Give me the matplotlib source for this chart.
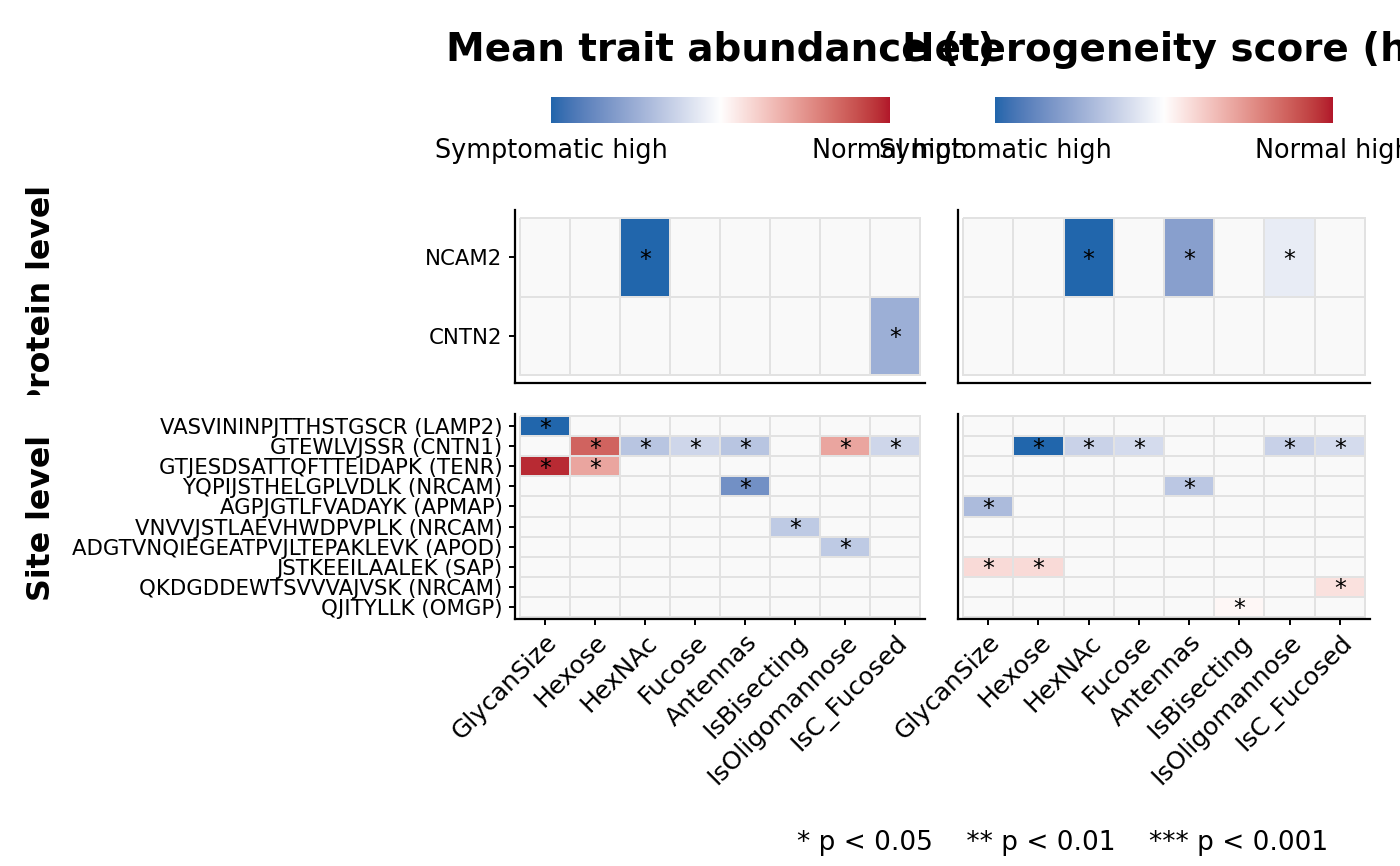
import numpy as np
import matplotlib
matplotlib.use("Agg")
import matplotlib.pyplot as plt
from matplotlib.colors import ListedColormap, Normalize
from matplotlib.transforms import Bbox, TransformedBbox

nan = np.nan

traits = ["GlycanSize", "Hexose", "HexNAc", "Fucose", "Antennas",
          "IsBisecting", "IsOligomannose", "IsC_Fucosed"]
proteins = ["NCAM2", "CNTN2"]
sites = ["VASVININPJTTHSTGSCR (LAMP2)", "GTEWLVJSSR (CNTN1)",
         "GTJESDSATTQFTTEIDAPK (TENR)", "YQPIJSTHELGPLVDLK (NRCAM)",
         "AGPJGTLFVADAYK (APMAP)", "VNVVJSTLAEVHWDPVPLK (NRCAM)",
         "ADGTVNQIEGEATPVJLTEPAKLEVK (APOD)", "JSTKEEILAALEK (SAP)",
         "QKDGDDEWTSVVVAJVSK (NRCAM)", "QJITYLLK (OMGP)"]

# scaled effect (negative = symptomatic high, positive = normal high), nan = not significant
mean_protein = [
    [nan, nan, -1.0, nan, nan, nan, nan, nan],
    [nan, nan, nan, nan, nan, nan, nan, -0.5],
]
het_protein = [
    [nan, nan, -1.0, nan, -0.6, nan, -0.12, nan],
    [nan, nan, nan, nan, nan, nan, nan, nan],
]
mean_site = [
    [-1.0, nan, nan, nan, nan, nan, nan, nan],
    [nan, 0.72, -0.36, -0.25, -0.36, nan, 0.42, -0.25],
    [0.95, 0.42, nan, nan, nan, nan, nan, nan],
    [nan, nan, nan, nan, -0.7, nan, nan, nan],
    [nan, nan, nan, nan, nan, nan, nan, nan],
    [nan, nan, nan, nan, nan, -0.33, nan, nan],
    [nan, nan, nan, nan, nan, nan, -0.33, nan],
    [nan, nan, nan, nan, nan, nan, nan, nan],
    [nan, nan, nan, nan, nan, nan, nan, nan],
    [nan, nan, nan, nan, nan, nan, nan, nan],
]
het_site = [
    [nan, nan, nan, nan, nan, nan, nan, nan],
    [nan, -1.0, -0.27, -0.22, nan, nan, -0.28, -0.22],
    [nan, nan, nan, nan, nan, nan, nan, nan],
    [nan, nan, nan, nan, -0.34, nan, nan, nan],
    [-0.42, nan, nan, nan, nan, nan, nan, nan],
    [nan, nan, nan, nan, nan, nan, nan, nan],
    [nan, nan, nan, nan, nan, nan, nan, nan],
    [0.17, 0.17, nan, nan, nan, nan, nan, nan],
    [nan, nan, nan, nan, nan, nan, nan, 0.14],
    [nan, nan, nan, nan, nan, 0.04, nan, nan],
]


# diverging gradient interpolated in Lab space (like ggplot's gradient2)
M = np.array([[0.4124, 0.3576, 0.1805], [0.2126, 0.7152, 0.0722], [0.0193, 0.1192, 0.9505]])
WHITE = np.array([0.95047, 1.0, 1.08883])

def to_lab(hexcol):
    rgb = np.array([int(hexcol[i:i + 2], 16) / 255 for i in (1, 3, 5)])
    lin = np.where(rgb <= 0.04045, rgb / 12.92, ((rgb + 0.055) / 1.055) ** 2.4)
    t = M @ lin / WHITE
    f = np.where(t > 0.008856, np.cbrt(t), 7.787 * t + 16 / 116)
    return np.array([116 * f[1] - 16, 500 * (f[0] - f[1]), 200 * (f[1] - f[2])])

def from_lab(lab):
    fy = (lab[0] + 16) / 116
    f = np.array([fy + lab[1] / 500, fy, fy - lab[2] / 200])
    t = np.where(f ** 3 > 0.008856, f ** 3, (f - 16 / 116) / 7.787) * WHITE
    lin = np.linalg.solve(M, t)
    rgb = np.where(lin <= 0.0031308, 12.92 * lin, 1.055 * np.clip(lin, 0, None) ** (1 / 2.4) - 0.055)
    return np.clip(rgb, 0, 1)

low, mid, high = to_lab("#2166AC"), to_lab("#FFFFFF"), to_lab("#B2182B")
cols = []
for v in np.linspace(-1, 1, 257):
    if v < 0:
        cols.append(from_lab(low + (v + 1) * (mid - low)))
    else:
        cols.append(from_lab(mid + v * (high - mid)))
cmap = ListedColormap(cols)
cmap.set_bad("#f9f9f9")
norm = Normalize(-1, 1)

W, H = 1400, 866
fig = plt.figure(figsize=(14, 8.66), dpi=100)


def rect(x0, y0, x1, y1):
    return [x0 / W, 1 - y1 / H, (x1 - x0) / W, (y1 - y0) / H]


def heat(ax, data, rows, show_y, show_x):
    z = np.ma.masked_invalid(np.array(data))
    ax.pcolormesh(np.arange(len(traits) + 1) - 0.5, np.arange(len(rows) + 1) - 0.5, z,
                  cmap=cmap, norm=norm, edgecolors="#e2e2e2", linewidth=1.3)
    for i in range(len(rows)):
        for j in range(len(traits)):
            if not np.isnan(data[i][j]):
                ax.text(j, i, "*", ha="center", va="center_baseline", fontsize=17)
    ax.set_xlim(-0.6, len(traits) - 0.4)
    ax.set_ylim(len(rows) - 0.4, -0.6)
    for s in ["top", "right"]:
        ax.spines[s].set_visible(False)
    for s in ["left", "bottom"]:
        ax.spines[s].set_linewidth(1.6)
    ax.tick_params(width=1.4, length=4)
    ax.tick_params(axis="y", pad=5)
    ax.tick_params(axis="x", pad=4)
    if show_y:
        ax.set_yticks(range(len(rows)))
        ax.set_yticklabels(rows, fontsize=15.3)
    else:
        ax.set_yticks([])
    if show_x:
        ax.set_xticks(range(len(traits)))
        ax.set_xticklabels(traits, fontsize=18, rotation=45, ha="right", va="top",
                           rotation_mode="anchor")
    else:
        ax.set_xticks([])


ax1 = fig.add_axes(rect(515, 210, 925, 383))
ax2 = fig.add_axes(rect(958, 210, 1370, 383))
ax3 = fig.add_axes(rect(515, 414, 925, 619))
ax4 = fig.add_axes(rect(958, 414, 1370, 619))
heat(ax1, mean_protein, proteins, True, False)
heat(ax2, het_protein, proteins, False, False)
heat(ax3, mean_site, sites, True, True)
heat(ax4, het_site, sites, False, True)

# colour bars and titles
titles = ["Mean trait abundance (t)", "Heterogeneity score (h)"]
bars = [(551, 890), (995, 1333)]
grad = np.linspace(-1, 1, 256).reshape(1, -1)
for (x0, x1), title in zip(bars, titles):
    cax = fig.add_axes(rect(x0, 97, x1, 123))
    cax.imshow(grad, cmap=cmap, norm=norm, aspect="auto")
    cax.axis("off")
    fig.text((x0 + x1) / 2 / W, 1 - 61 / H, title, ha="center", va="baseline",
             fontsize=28, fontweight="bold")
    fig.text(x0 / W, 1 - 158 / H, "Symptomatic high", ha="center", va="baseline", fontsize=18.4)
    fig.text(x1 / W, 1 - 158 / H, "Normal high", ha="center", va="baseline", fontsize=18.4)

# row strips (protein strip text is clipped like the original)
t1 = fig.text(42 / W, 1 - 298 / H, "Protein level", rotation=90, ha="center", va="center",
              fontsize=22.8, fontweight="bold")
t1.set_clip_box(TransformedBbox(Bbox([[0, 1 - 395 / H], [0.2, 1]]), fig.transFigure))
t1.set_clip_on(True)
fig.text(42 / W, 1 - 518 / H, "Site level", rotation=90, ha="center", va="center",
         fontsize=22.8, fontweight="bold")

fig.text(1063 / W, 1 - 850 / H, "* p < 0.05    ** p < 0.01    *** p < 0.001",
         ha="center", va="baseline", fontsize=19)

fig.savefig("out.png", dpi=100)
